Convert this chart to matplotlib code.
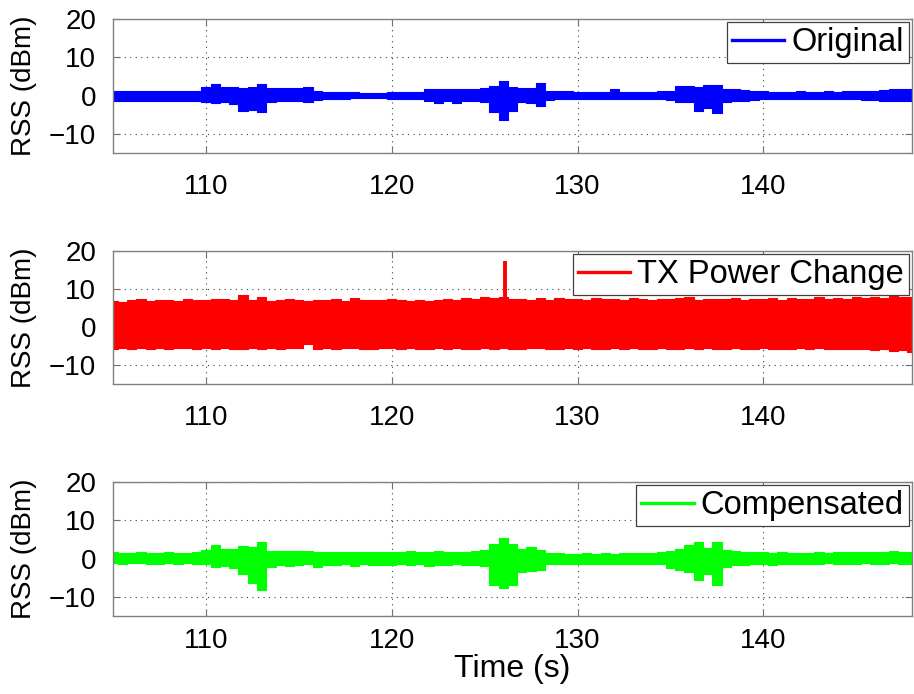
import numpy as np
import matplotlib
matplotlib.use("Agg")
import matplotlib.pyplot as plt

plt.rcParams['font.family'] = ['Liberation Sans', 'DejaVu Sans']

# Time base of the envelope samples (s)
t_start, t_stop, t_step = 105.0, 148.0, 0.5

# RSS envelopes (dBm): per-sample maximum / minimum of each trace
orig_hi = [1.2, 1.3, 1.2, 1.2, 1.3, 1.2, 1.2, 1.3, 1.2, 1.2,
           2.2, 2.9, 2.2, 2.3, 2.1, 2.3, 2.9, 2.1, 2.0, 2.1,
           2.1, 2.2, 1.1, 1.0, 1.0, 0.9, 0.9, 0.8, 0.8, 0.8,
           0.9, 0.9, 1.0, 1.0, 1.6, 1.7, 1.6, 1.6, 1.7, 1.7,
           1.9, 2.6, 3.8, 2.2, 2.0, 2.1, 3.4, 1.2, 1.1, 1.1,
           1.0, 1.0, 1.0, 1.0, 1.7, 1.0, 1.0, 1.0, 1.0, 1.1,
           1.3, 2.4, 2.6, 2.3, 2.7, 2.8, 1.7, 1.6, 1.4, 1.3,
           1.1, 1.0, 1.0, 1.0, 1.1, 1.0, 1.0, 1.1, 1.0, 1.1,
           1.1, 1.2, 1.2, 1.5, 1.6, 1.6, 1.6]
orig_lo = [-1.3, -1.4, -1.3, -1.3, -1.4, -1.3, -1.3, -1.4, -1.3, -1.3,
           -1.8, -1.9, -1.8, -2.2, -4.0, -3.8, -4.2, -1.6, -1.4, -1.4,
           -1.4, -1.6, -1.1, -1.0, -0.9, -0.8, -0.7, -0.6, -0.6, -0.7,
           -0.8, -0.9, -1.0, -1.0, -1.4, -2.0, -1.4, -2.0, -1.5, -1.5,
           -1.6, -4.2, -6.3, -4.0, -1.8, -1.9, -2.6, -1.1, -1.0, -1.0,
           -0.9, -0.9, -0.9, -0.9, -0.9, -0.9, -0.9, -0.9, -1.0, -1.0,
           -1.2, -1.8, -1.8, -4.0, -3.2, -4.5, -1.6, -1.5, -1.4, -1.2,
           -1.0, -1.0, -1.0, -1.0, -1.0, -1.0, -1.0, -1.0, -1.0, -1.0,
           -1.0, -1.1, -1.1, -1.4, -1.5, -1.5, -1.5]

tx_hi = [6.8, 6.5, 7.0, 7.3, 6.9, 7.2, 7.0, 6.8, 7.4, 7.1,
         7.1, 7.4, 7.3, 7.0, 8.4, 7.2, 8.0, 6.9, 7.0, 7.3,
         7.2, 6.9, 7.1, 7.0, 7.3, 6.8, 7.6, 7.1, 7.0, 7.0,
         7.3, 7.0, 6.8, 7.2, 6.9, 7.1, 7.4, 7.2, 7.6, 7.5,
         7.8, 7.7, 7.9, 7.5, 7.4, 7.0, 7.6, 7.2, 7.7, 7.3,
         7.5, 7.2, 7.6, 7.3, 7.4, 7.0, 7.6, 7.5, 7.2, 7.4,
         7.3, 7.6, 7.8, 7.2, 7.5, 7.3, 7.4, 7.7, 7.2, 7.5,
         7.4, 7.6, 7.2, 7.7, 7.5, 7.3, 7.8, 7.5, 7.6, 7.4,
         7.8, 7.6, 8.0, 7.7, 8.1, 7.9, 8.0]
tx_lo = [-5.8, -5.5, -5.9, -5.6, -5.7, -5.4, -5.8, -5.6, -5.5, -5.9,
         -5.6, -5.8, -5.4, -5.7, -5.9, -5.5, -5.8, -5.6, -5.7, -5.5,
         -5.6, -4.5, -5.7, -5.5, -5.8, -5.6, -5.4, -5.7, -5.9, -5.6,
         -5.5, -5.8, -5.6, -5.9, -5.7, -5.5, -5.8, -5.6, -5.7, -5.9,
         -5.6, -5.8, -5.5, -5.7, -5.9, -5.6, -5.4, -5.8, -5.7, -5.5,
         -5.8, -5.6, -5.9, -5.7, -5.5, -5.8, -5.6, -5.7, -5.9, -5.6,
         -5.7, -5.9, -5.6, -5.8, -5.5, -5.7, -5.9, -5.6, -5.8, -5.7,
         -5.6, -5.8, -5.9, -5.7, -5.5, -5.8, -5.6, -5.9, -5.7, -5.8,
         -5.9, -5.7, -6.0, -5.8, -6.2, -6.0, -6.5]

comp_hi = [1.6, 1.5, 1.5, 1.6, 1.5, 1.5, 1.6, 1.5, 1.5, 1.7,
           2.2, 3.5, 2.4, 2.6, 3.2, 3.0, 4.3, 2.0, 2.1, 2.0,
           1.9, 2.0, 1.8, 1.7, 1.8, 1.6, 1.7, 1.8, 1.7, 1.8,
           1.6, 1.8, 1.9, 1.7, 1.8, 1.9, 1.7, 1.8, 1.8, 1.9,
           2.2, 3.8, 5.5, 3.9, 2.6, 3.0, 2.2, 1.5, 1.4, 1.3,
           1.3, 1.4, 1.3, 1.5, 1.3, 1.4, 1.4, 1.5, 1.5, 1.6,
           2.0, 2.6, 3.5, 4.3, 2.8, 4.3, 2.2, 2.0, 1.8, 1.7,
           1.6, 1.5, 1.6, 1.5, 1.4, 1.5, 1.6, 1.5, 1.6, 1.7,
           1.7, 1.8, 1.7, 1.8, 1.9, 1.8, 1.8]
comp_lo = [-1.2, -1.3, -1.2, -1.2, -1.4, -1.3, -1.2, -1.3, -1.2, -1.3,
           -1.5, -2.3, -2.0, -2.4, -4.0, -6.5, -8.3, -2.2, -1.8, -2.0,
           -1.8, -1.5, -2.1, -1.6, -1.8, -1.4, -2.0, -1.5, -1.7, -1.6,
           -1.7, -1.5, -1.8, -1.5, -2.0, -1.6, -1.7, -1.5, -1.6, -1.7,
           -2.0, -7.0, -7.8, -6.9, -3.4, -3.3, -3.0, -1.5, -1.4, -1.4,
           -1.3, -1.4, -1.3, -1.3, -1.4, -1.3, -1.4, -1.3, -1.4, -1.5,
           -2.5, -3.0, -3.5, -5.7, -4.0, -7.0, -2.2, -1.8, -1.6, -1.5,
           -1.4, -1.6, -1.5, -1.3, -1.4, -1.3, -1.3, -1.2, -1.3, -1.3,
           -1.3, -1.2, -1.3, -1.3, -1.2, -1.3, -1.3]

# Isolated bursts on top of the envelope: (time s, peak dBm)
tx_spikes = [(126.1, 17.4)]

series_names = ["Original", "TX Power Change", "Compensated"]
series_colors = ["#0000ff", "#ff0000", "#00ff00"]

x_ticks = [110, 120, 130, 140]
y_ticks = [-10, 0, 10, 20]

t = np.arange(t_start, t_stop + t_step / 2, t_step)
panels = [(orig_hi, orig_lo, []), (tx_hi, tx_lo, tx_spikes), (comp_hi, comp_lo, [])]

W, H = 914, 694
fig = plt.figure(figsize=(W / 100, H / 100), dpi=100)
boxes = [(19, 153), (251, 384), (482, 616)]
xpads = [15, 15, 9]
left, right = 113, 912

for (hi, lo, spikes), name, color, (ytop, ybot), xpad in zip(
        panels, series_names, series_colors, boxes, xpads):
    ax = fig.add_axes([left / W, 1 - ybot / H, (right - left) / W, (ybot - ytop) / H])
    ax.fill_between(t, lo, hi, step='mid', color=color, lw=0.8, edgecolor=color, zorder=2)
    for ts, peak in spikes:
        ax.vlines(ts, 0, peak, color=color, lw=2.8, zorder=2)
    ax.plot([], [], color=color, lw=2.4, label=name)
    ax.set_xlim(105, 148)
    ax.set_ylim(-15, 20)
    ax.set_xticks(x_ticks)
    ax.set_yticks(y_ticks)
    ax.set_yticklabels([f"\u2212{abs(v)}" if v < 0 else str(v) for v in y_ticks])
    ax.grid(True, linestyle=(0, (1, 4)), color='#404040', lw=0.8, zorder=1)
    ax.set_axisbelow(True)
    ax.tick_params(direction='in', length=5, width=0.8, colors='#707070',
                   labelcolor='black', labelsize=20, top=True, right=True)
    ax.tick_params(axis='x', pad=xpad)
    ax.tick_params(axis='y', pad=12)
    for s in ax.spines.values():
        s.set_color('#808080')
        s.set_linewidth(1.0)
    ax.set_ylabel("RSS (dBm)", fontsize=20)
    ax.yaxis.set_label_coords((37 - left) / (right - left), 0.5)
    leg = ax.legend(loc='upper right', fontsize=23.5, fancybox=False, framealpha=1,
                    edgecolor='#404040', handlelength=1.6, handletextpad=0.22,
                    borderpad=0.15, borderaxespad=0.1)
    leg.get_frame().set_linewidth(0.9)
    if name == "Compensated":
        ax.set_xlabel("Time (s)", fontsize=23)
        ax.xaxis.set_label_coords(0.5, -(654 - ybot) / (ybot - ytop))

fig.savefig("out.png", dpi=100)
